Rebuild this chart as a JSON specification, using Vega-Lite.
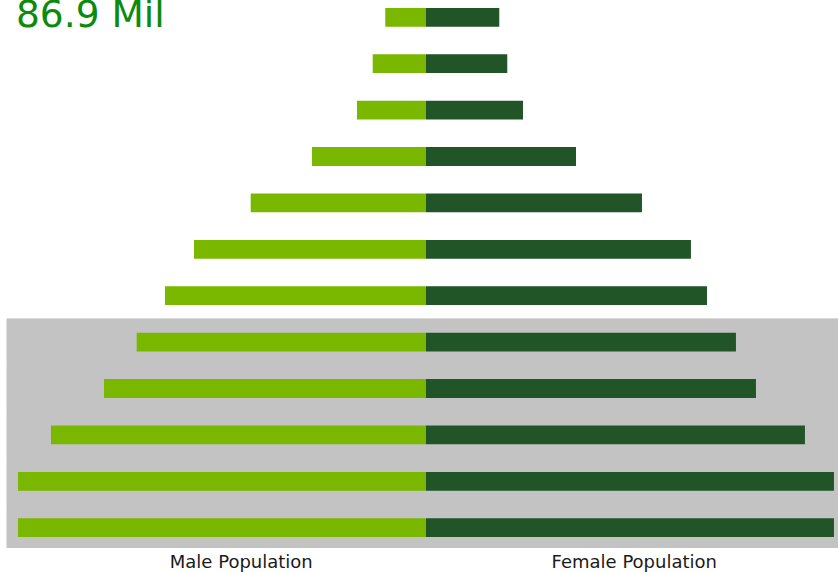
{
  "$schema": "https://vega.github.io/schema/vega-lite/v6.json",
  "width": 838,
  "height": 548,
  "autosize": {"type": "none"},
  "padding": {"top": 0, "left": 0, "right": 0, "bottom": 24},
  "background": "white",
  "title": {
    "text": "86.9 Mil",
    "anchor": "start",
    "frame": "group",
    "font": "DejaVu Sans",
    "fontSize": 37.5,
    "fontWeight": "normal",
    "color": "#0b8a0b",
    "baseline": "alphabetic",
    "offset": 0,
    "dy": 64,
    "dx": 16
  },
  "config": {"view": {"stroke": null}},
  "data": {
    "values": [
      {"age": "55+", "male": 616, "female": 1109, "highlight": false},
      {"age": "50-54", "male": 806, "female": 1230, "highlight": false},
      {"age": "45-49", "male": 1044, "female": 1468, "highlight": false},
      {"age": "40-44", "male": 1725, "female": 2270, "highlight": false},
      {"age": "35-39", "male": 2652, "female": 3268, "highlight": false},
      {"age": "30-34", "male": 3510, "female": 4009, "highlight": false},
      {"age": "25-29", "male": 3949, "female": 4252, "highlight": false},
      {"age": "20-24", "male": 4377, "female": 4690, "highlight": true},
      {"age": "15-19", "male": 4872, "female": 4993, "highlight": true},
      {"age": "10-14", "male": 5674, "female": 5734, "highlight": true},
      {"age": "5-9", "male": 6173, "female": 6173, "highlight": true},
      {"age": "0-4", "male": 6173, "female": 6173, "highlight": true}
    ]
  },
  "encoding": {
    "y": {
      "field": "age",
      "type": "nominal",
      "sort": ["55+", "50-54", "45-49", "40-44", "35-39", "30-34", "25-29", "20-24", "15-19", "10-14", "5-9", "0-4"],
      "scale": {"paddingInner": 0, "paddingOuter": 0, "range": [-5.9, 550.9]},
      "axis": null
    }
  },
  "layer": [
    {
      "transform": [{"filter": "datum.highlight"}],
      "mark": {"type": "rect", "color": "#c3c3c3", "stroke": "#c3c3c3", "strokeWidth": 1, "clip": true},
      "encoding": {
        "x": {"datum": -6339, "type": "quantitative", "scale": {"domain": [-6445, 6234], "nice": false, "zero": false}, "axis": null},
        "x2": {"datum": 6234}
      }
    },
    {
      "mark": {"type": "bar", "color": "#7ab800", "height": {"band": 0.405}},
      "encoding": {
        "x": {"field": "male", "type": "quantitative", "scale": {"domain": [-6234, 6445], "reverse": true, "nice": false, "zero": false}, "axis": null},
        "x2": {"datum": 0}
      }
    },
    {
      "mark": {"type": "bar", "color": "#215527", "height": {"band": 0.405}},
      "encoding": {
        "x": {
          "field": "female",
          "type": "quantitative",
          "scale": {"domain": [-6445, 6234], "nice": false, "zero": false},
          "axis": {
            "values": [-2802, 3144],
            "labelExpr": "datum.value < 0 ? 'Male Population' : 'Female Population'",
            "domain": false,
            "ticks": false,
            "tickSize": 0,
            "grid": false,
            "title": null,
            "labelFont": "DejaVu Sans",
            "labelFontSize": 18,
            "labelColor": "#1a1a1a",
            "labelBaseline": "alphabetic",
            "labelPadding": 19,
            "labelFlush": false,
            "labelOverlap": false
          }
        },
        "x2": {"datum": 0}
      }
    }
  ],
  "resolve": {"scale": {"x": "independent"}}
}
